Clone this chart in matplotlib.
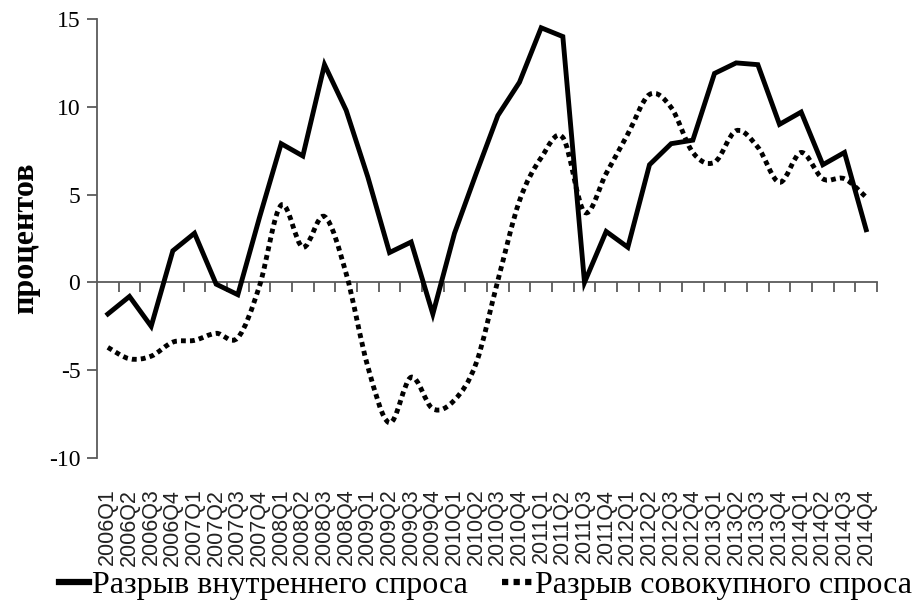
import numpy as np
import matplotlib
matplotlib.use("Agg")
import matplotlib.pyplot as plt
from matplotlib.path import Path
from matplotlib.patches import PathPatch
from matplotlib.lines import Line2D
import matplotlib.transforms as mtransforms

quarters = [f"{y}Q{q}" for y in range(2006, 2015) for q in range(1, 5)]
domestic_gap = [-1.8, -0.8, -2.5, 1.8, 2.8, -0.1, -0.7, 3.7, 7.9, 7.2, 12.4, 9.8,
                6.0, 1.7, 2.3, -1.8, 2.8, 6.2, 9.5, 11.4, 14.5, 14.0, 0.0, 2.9,
                2.0, 6.7, 7.9, 8.1, 11.9, 12.5, 12.4, 9.0, 9.7, 6.7, 7.4, 3.0]
aggregate_gap = [-3.7, -4.35, -4.2, -3.4, -3.3, -2.9, -3.15, -0.2, 4.4, 2.0, 3.75, 0.5,
                 -4.8, -8.0, -5.4, -7.2, -6.7, -4.6, 0.1, 4.65, 7.1, 8.25, 4.0, 6.2,
                 8.45, 10.7, 9.96, 7.4, 6.84, 8.64, 7.7, 5.7, 7.4, 5.9, 5.9, 4.85]
yticks = [-10, -5, 0, 5, 10, 15]
label_domestic = "Разрыв внутреннего спроса"
label_aggregate = "Разрыв совокупного спроса"
ylabel = "процентов"

SERIF = ["Liberation Serif", "DejaVu Serif"]
SANS = ["Liberation Sans", "DejaVu Sans"]
plt.rcParams["font.family"] = SERIF
AXCOL = "#5a5a5a"
DOTS = (0, (1, 0.85))

fig = plt.figure(figsize=(9.14, 6.08), dpi=100)
W, H = 914, 608
left, right, top, bottom = 97, 877, 19, 458
ax = fig.add_axes([left / W, 1 - bottom / H, (right - left) / W, (bottom - top) / H])

x = np.arange(len(quarters))
ax.set_xlim(-0.5, len(quarters) - 0.5)
ax.set_ylim(-10, 15)

# solid line
ax.plot(x, domestic_gap, color="black", lw=3.5, solid_joinstyle="miter", zorder=3)

# smoothed dotted line (Catmull-Rom rendered as Bezier curves in data coords)
xs = x.astype(float)
ys = np.array(aggregate_gap, dtype=float)
verts = [(xs[0], ys[0])]
codes = [Path.MOVETO]
n = len(xs)
for i in range(n - 1):
    p0 = (xs[max(i - 1, 0)], ys[max(i - 1, 0)])
    p1 = (xs[i], ys[i])
    p2 = (xs[i + 1], ys[i + 1])
    p3 = (xs[min(i + 2, n - 1)], ys[min(i + 2, n - 1)])
    t = 1 / 6.0
    c1 = (p1[0] + (p2[0] - p0[0]) * t, p1[1] + (p2[1] - p0[1]) * t)
    c2 = (p2[0] - (p3[0] - p1[0]) * t, p2[1] - (p3[1] - p1[1]) * t)
    verts += [c1, c2, p2]
    codes += [Path.CURVE4] * 3
patch = PathPatch(Path(verts, codes), facecolor="none", edgecolor="black",
                  lw=3.5, linestyle=DOTS, capstyle="butt", zorder=3)
ax.add_patch(patch)

# spines
for s in ["top", "right"]:
    ax.spines[s].set_visible(False)
ax.spines["left"].set_color(AXCOL)
ax.spines["left"].set_linewidth(1.3)
ax.spines["bottom"].set_position(("data", 0))
ax.spines["bottom"].set_color(AXCOL)
ax.spines["bottom"].set_linewidth(1.3)

ax.set_yticks(yticks)
ax.set_yticklabels([str(v) for v in yticks], fontsize=17, family=SERIF)
ax.tick_params(axis="y", direction="out", length=7, width=1.3, color=AXCOL, pad=5)

# x ticks at category boundaries
ax.set_xticks(np.arange(0.5, len(quarters), 1.0))
ax.set_xticklabels([])
ax.tick_params(axis="x", direction="out", length=7, width=1.3, color=AXCOL)

trans = mtransforms.blended_transform_factory(ax.transData, ax.transAxes)
for xi, q in zip(x, quarters):
    ax.text(xi, -0.07, q, transform=trans, rotation=90, ha="center", va="top",
            family=SANS, fontsize=15.5, color="#222222")

fig.text(26 / W, 1 - 238 / H, ylabel, rotation=90, ha="center", va="center",
         family=SERIF, fontsize=23, fontweight="bold")

handles = [Line2D([], [], color="black", lw=4.5),
           Line2D([], [], color="black", lw=4.5, linestyle=DOTS)]
fig.legend(handles, [label_domestic, label_aggregate], ncol=2, loc="center",
           bbox_to_anchor=(0.531, 1 - 585 / H), frameon=False,
           prop={"family": SERIF, "size": 23}, handlelength=0.95,
           handletextpad=0.1, columnspacing=1.05, borderaxespad=0)

fig.savefig("out.png", dpi=100)
